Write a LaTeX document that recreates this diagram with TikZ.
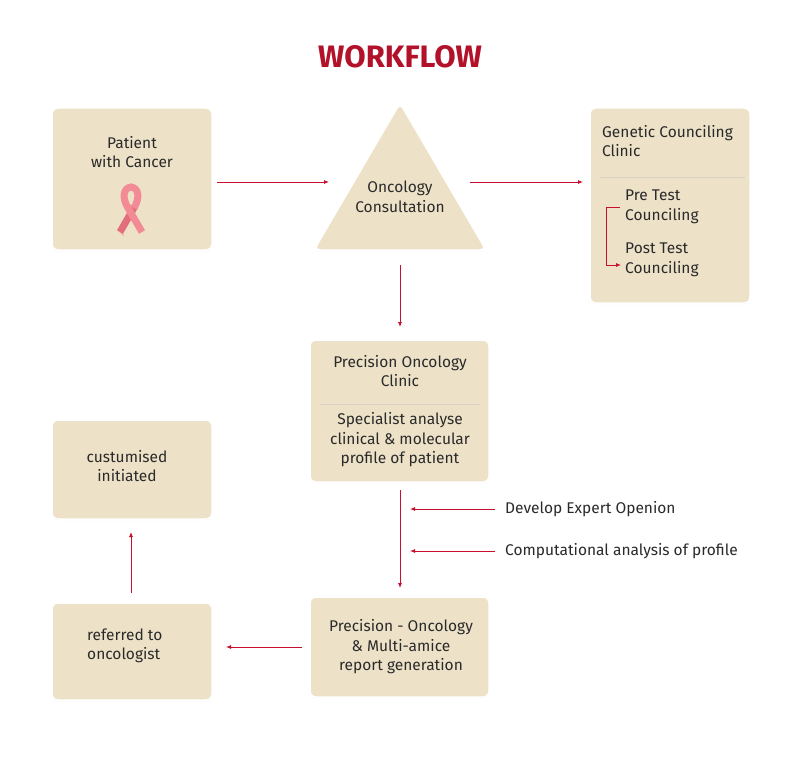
\documentclass[tikz,border=0pt]{standalone}
\usepackage{fontspec}
\setmainfont{Fira Sans}
\usetikzlibrary{arrows.meta,shadows}
\definecolor{boxc}{HTML}{EDE2C8}
\definecolor{redc}{HTML}{C8102E}
\definecolor{titc}{HTML}{B3102A}
\definecolor{txt}{HTML}{2A2A2A}
\definecolor{pinkc}{HTML}{F28B95}
\definecolor{pinkd}{HTML}{E26F7B}
\tikzset{
 box/.style={draw=white,line width=1.5pt,fill=boxc,rounded corners=6pt,drop shadow={shadow xshift=0pt,shadow yshift=-1pt,opacity=0.12}},
 t/.style={text=txt,font=\fontsize{15.5}{19.5}\selectfont,inner sep=0pt},
 arr/.style={draw=redc,line width=0.8pt,-{Latex[length=5pt,width=4pt]}},
}
\begin{document}
\begin{tikzpicture}[x=1pt,y=-1pt]
\useasboundingbox (0,0) rectangle (800,770);
\fill[white] (0,0) rectangle (800,770);
\node[font=\fontsize{31}{34}\selectfont\bfseries,text=titc] (title) at (400,57) {WORKFLOW};
% boxes
\path[box] (52,108) rectangle (212,250);
\path[box] (400,103) -- (486,250) -- (314,250) -- cycle;
\path[box] (590,108) rectangle (750,303);
\path[box] (310,340) rectangle (489,482);
\path[box] (52,420) rectangle (212,519);
\path[box] (52,603) rectangle (212,700);
\path[box] (310,597) rectangle (489,697);
\draw[boxc!80!black!60,line width=0.5pt] (600,177) -- (745,177);
\draw[boxc!80!black!60,line width=0.5pt] (320,404) -- (480,404);
% texts
\node[t,align=center] (pt) at (132,152) {Patient\\with Cancer};
\node[t,align=center] (onc) at (400,197) {Oncology\\Consultation};
\node[t,align=left,anchor=west] (gen) at (602,141) {Genetic Counciling\\Clinic};
\node[t,align=left,anchor=west] (pre) at (625,207) {Pre Test\\Counciling};
\node[t,align=left,anchor=west] (post) at (625,260) {Post Test\\Counciling};
\node[t,align=center] (pc) at (400,371) {Precision Oncology\\Clinic};
\node[t,align=center] (sp) at (400,440) {Specialist analyse\\clinical \& molecular\\profile of patient};
\node[t,align=center] (cu) at (127,466) {custumised\\initiated};
\node[t,align=left,anchor=west] (ref) at (87,646) {referred to\\oncologist};
\node[t,align=center] (rep) at (401,647) {Precision - Oncology\\\& Multi-amice\\report generation};
\node[t,anchor=west] (dev) at (505,509) {Develop Expert Openion};
\node[t,anchor=west] (comp) at (505,551) {Computational analysis of profile};
% ribbon
\begin{scope}[shift={(131,208)}]
\draw[pinkd,line width=7pt] (-11,24) -- (4,-2);
\draw[pinkc,line width=7pt] (11,24) -- (-3,0) .. controls (-9,-10) and (-8,-20) .. (0,-21) .. controls (8,-20) and (9,-10) .. (3,0);
\fill[pinkc] (-14,22) -- (-8,26) -- (-7,28) -- cycle;
\end{scope}
% connectors
\coordinate (a1) at (217,182); \coordinate (a2) at (329,182);
\coordinate (b1) at (470,182); \coordinate (b2) at (583,182);
\coordinate (c1) at (400,265); \coordinate (c2) at (400,327);
\coordinate (d1) at (400,490); \coordinate (d2) at (400,588);
\coordinate (e1) at (302,647); \coordinate (e2) at (226,647);
\coordinate (f1) at (131,593); \coordinate (f2) at (131,532);
\draw[arr] (a1) -- (a2);
\draw[arr] (b1) -- (b2);
\draw[arr] (c1) -- (c2);
\draw[arr] (d1) -- (d2);
\draw[arr] (e1) -- (e2);
\draw[arr] (f1) -- (f2);
\draw[arr] (dev.west)++(-10,0) -- (410,509);
\draw[arr] (comp.west)++(-10,0) -- (410,551);
\draw[arr] (620,207) -- (606,207) -- (606,265) -- (621,265);
\end{tikzpicture}
\end{document}
